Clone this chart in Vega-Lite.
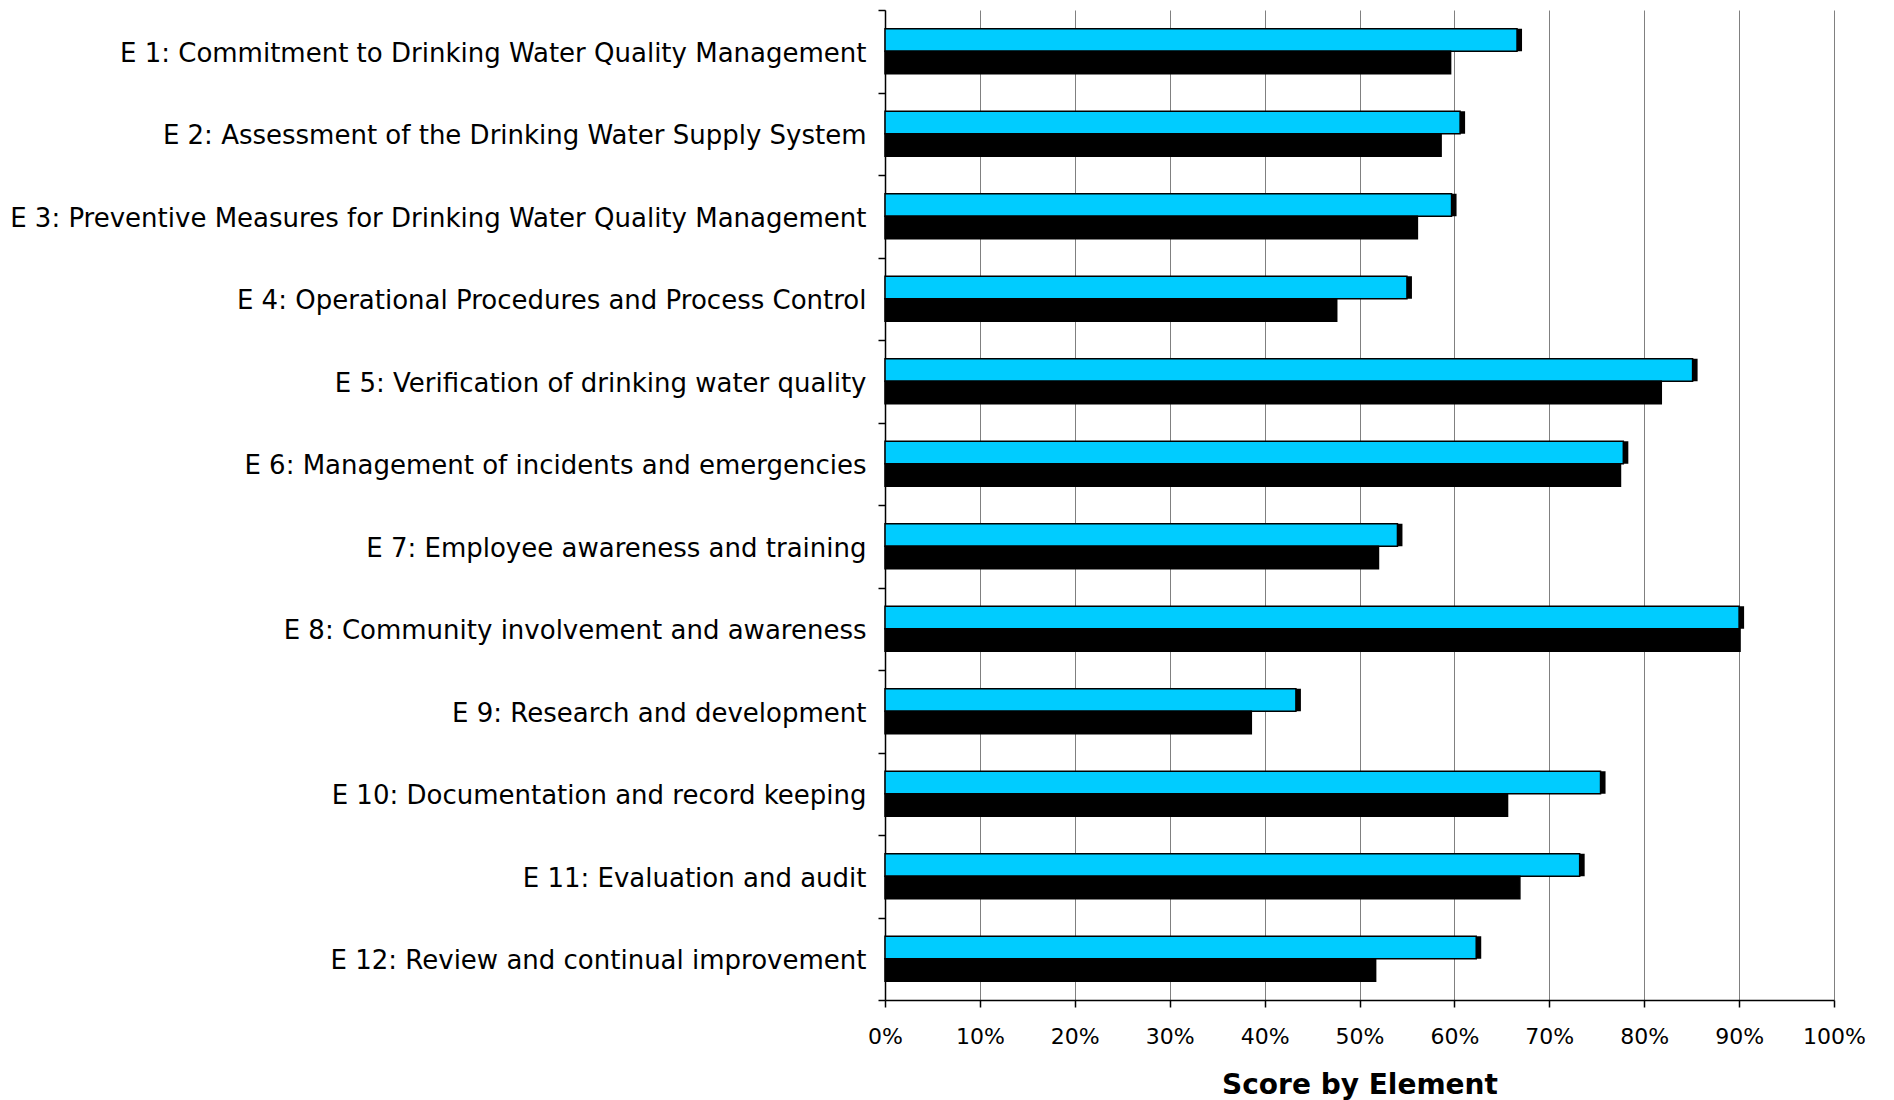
{
  "$schema": "https://vega.github.io/schema/vega-lite/v6.json",
  "width": 949,
  "height": 990,
  "autosize": "none",
  "padding": {"left": 885, "top": 10, "right": 60, "bottom": 100},
  "background": "white",
  "config": {"view": {"stroke": null}, "font": "DejaVu Sans"},
  "data": {
    "values": [
      {"element": "E 1: Commitment to Drinking Water Quality Management", "series": "A", "value": 0.666},
      {"element": "E 1: Commitment to Drinking Water Quality Management", "series": "B", "value": 0.596},
      {"element": "E 2: Assessment of the Drinking Water Supply System", "series": "A", "value": 0.606},
      {"element": "E 2: Assessment of the Drinking Water Supply System", "series": "B", "value": 0.586},
      {"element": "E 3: Preventive Measures for Drinking Water Quality Management", "series": "A", "value": 0.597},
      {"element": "E 3: Preventive Measures for Drinking Water Quality Management", "series": "B", "value": 0.561},
      {"element": "E 4: Operational Procedures and Process Control", "series": "A", "value": 0.55},
      {"element": "E 4: Operational Procedures and Process Control", "series": "B", "value": 0.476},
      {"element": "E 5: Verification of drinking water quality", "series": "A", "value": 0.851},
      {"element": "E 5: Verification of drinking water quality", "series": "B", "value": 0.818},
      {"element": "E 6: Management of incidents and emergencies", "series": "A", "value": 0.778},
      {"element": "E 6: Management of incidents and emergencies", "series": "B", "value": 0.775},
      {"element": "E 7: Employee awareness and training", "series": "A", "value": 0.54},
      {"element": "E 7: Employee awareness and training", "series": "B", "value": 0.52},
      {"element": "E 8: Community involvement and awareness", "series": "A", "value": 0.9},
      {"element": "E 8: Community involvement and awareness", "series": "B", "value": 0.901},
      {"element": "E 9: Research and development", "series": "A", "value": 0.433},
      {"element": "E 9: Research and development", "series": "B", "value": 0.386},
      {"element": "E 10: Documentation and record keeping", "series": "A", "value": 0.754},
      {"element": "E 10: Documentation and record keeping", "series": "B", "value": 0.656},
      {"element": "E 11: Evaluation and audit", "series": "A", "value": 0.732},
      {"element": "E 11: Evaluation and audit", "series": "B", "value": 0.669},
      {"element": "E 12: Review and continual improvement", "series": "A", "value": 0.623},
      {"element": "E 12: Review and continual improvement", "series": "B", "value": 0.517}
    ]
  },
  "encoding": {
    "y": {
      "field": "element",
      "type": "nominal",
      "sort": null,
      "scale": {"paddingInner": 0, "paddingOuter": 0},
      "axis": {
        "title": null,
        "tickBand": "extent",
        "labelFontSize": 26,
        "labelColor": "black",
        "labelPadding": 12,
        "labelLimit": 1000,
        "labelOffset": 2,
        "tickSize": 7,
        "tickColor": "black",
        "tickWidth": 1.5,
        "domainColor": "black",
        "domainWidth": 1.5,
        "grid": false
      }
    },
    "yOffset": {
      "field": "series",
      "type": "nominal",
      "scale": {"domain": ["A", "B"], "paddingInner": 0, "paddingOuter": 0.833}
    },
    "x": {
      "field": "value",
      "type": "quantitative",
      "scale": {"domain": [0, 1]},
      "axis": {
        "values": [0, 0.1, 0.2, 0.3, 0.4, 0.5, 0.6, 0.7, 0.8, 0.9, 1],
        "format": ".0%",
        "labelFlush": false,
        "grid": true,
        "gridColor": "#808080",
        "gridWidth": 1,
        "tickColor": "black",
        "tickSize": 7,
        "tickWidth": 1.5,
        "domainColor": "black",
        "domainWidth": 1.5,
        "labelFontSize": 22,
        "labelColor": "black",
        "labelPadding": 19,
        "title": "Score by Element",
        "titleFontSize": 28,
        "titleFontWeight": "bold",
        "titleColor": "black",
        "titlePadding": 24
      }
    }
  },
  "layer": [
    {
      "transform": [{"filter": "datum.series === 'A'"}],
      "mark": {"type": "bar", "color": "black", "xOffset": 5, "yOffset": 5}
    },
    {
      "mark": {"type": "bar", "stroke": "black", "strokeWidth": 1.5},
      "encoding": {
        "color": {
          "field": "series",
          "scale": {"domain": ["A", "B"], "range": ["#00CCFF", "#000000"]},
          "legend": null
        }
      }
    }
  ]
}
